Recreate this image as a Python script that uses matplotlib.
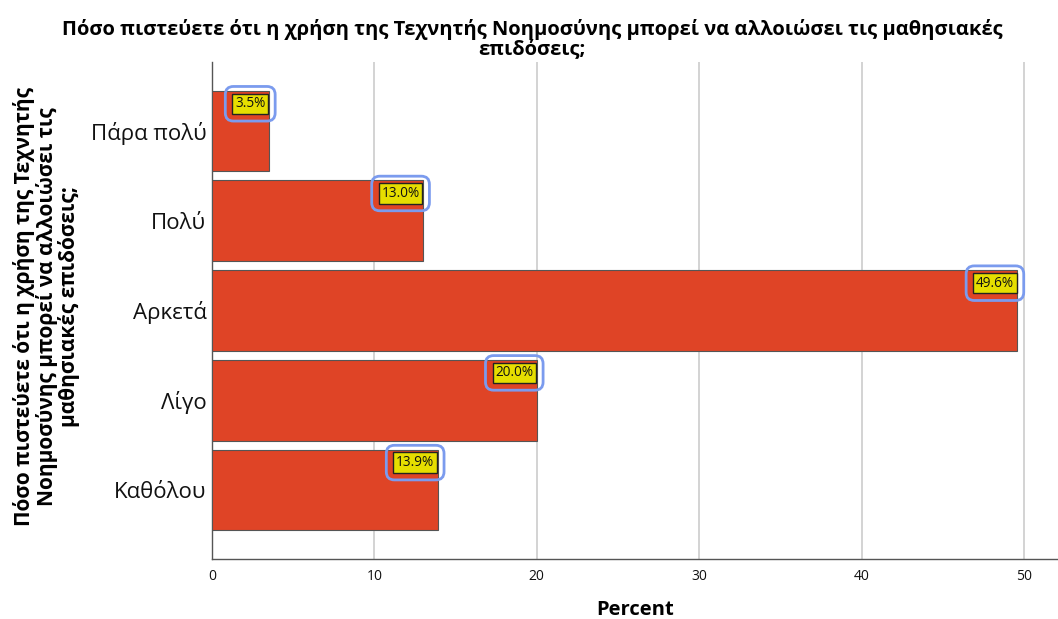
import matplotlib
matplotlib.use("Agg")
import matplotlib.pyplot as plt

categories = ["Πάρα πολύ", "Πολύ", "Αρκετά", "Λίγο", "Καθόλου"]
percent = [3.5, 13.0, 49.6, 20.0, 13.9]
x_ticks = [0, 10, 20, 30, 40, 50]

title = ("Πόσο πιστεύετε ότι η χρήση της Τεχνητής Νοημοσύνης μπορεί να αλλοιώσει τις μαθησιακές\n"
         "επιδόσεις;")
y_title = ("Πόσο πιστεύετε ότι η χρήση της Τεχνητής\n"
           "Νοημοσύνης μπορεί να αλλοιώσει τις\n"
           "μαθησιακές επιδόσεις;")

plt.rcParams["font.family"] = ["Open Sans", "DejaVu Sans"]

fig = plt.figure(figsize=(10.58, 6.19), dpi=100)
ax = fig.add_axes([212 / 1058, 1 - 559 / 619, 1 - 212 / 1058, (559 - 62) / 619])

ypos = list(range(len(categories)))
ax.barh(ypos, percent, height=0.9, color="#DF4426", edgecolor="#555555",
        linewidth=0.8, zorder=3)

ax.set_ylim(len(categories) - 0.23, -0.77)
ax.set_xlim(0, 52.1)
ax.set_yticks(ypos)
ax.set_yticklabels(categories, fontsize=16)
ax.set_xticks(x_ticks)
ax.set_xticklabels([str(t) for t in x_ticks], fontsize=10)
ax.tick_params(axis="both", length=0, colors="#111111")
ax.tick_params(axis="y", pad=4)
ax.tick_params(axis="x", pad=7)

ax.grid(axis="x", color="#cccccc", linewidth=1.2, zorder=0)
ax.set_axisbelow(True)
for side in ("top", "right"):
    ax.spines[side].set_visible(False)
for side in ("left", "bottom"):
    ax.spines[side].set_color("#555555")
    ax.spines[side].set_linewidth(1.0)

for y, v in zip(ypos, percent):
    label = f"{v:.1f}%"
    # outer rounded highlight
    ax.annotate(label, xy=(v, y - 0.45), xytext=(-2.5, -4), textcoords="offset points",
                ha="right", va="top", fontsize=9.8, color="none", zorder=4,
                bbox=dict(boxstyle="round,pad=0.72,rounding_size=0.6", fc="none",
                          ec="#7B9BEE", lw=2.0))
    # yellow value box
    ax.annotate(label, xy=(v, y - 0.45), xytext=(-2.5, -4), textcoords="offset points",
                ha="right", va="top", fontsize=9.8, color="#111111", zorder=5,
                bbox=dict(boxstyle="square,pad=0.2", fc="#E6DE00", ec="#222222", lw=1.0))

ax.set_xlabel("Percent", fontsize=14.5, fontweight="bold", labelpad=12)
fig.text(0.044, 0.505, y_title, rotation=90, ha="center", va="center",
         fontsize=15, fontweight="bold", linespacing=1.05)
fig.text(0.503, 0.937, title, ha="center", va="center", fontsize=14.5,
         fontweight="bold", linespacing=0.95)

fig.savefig("out.png", dpi=100)
